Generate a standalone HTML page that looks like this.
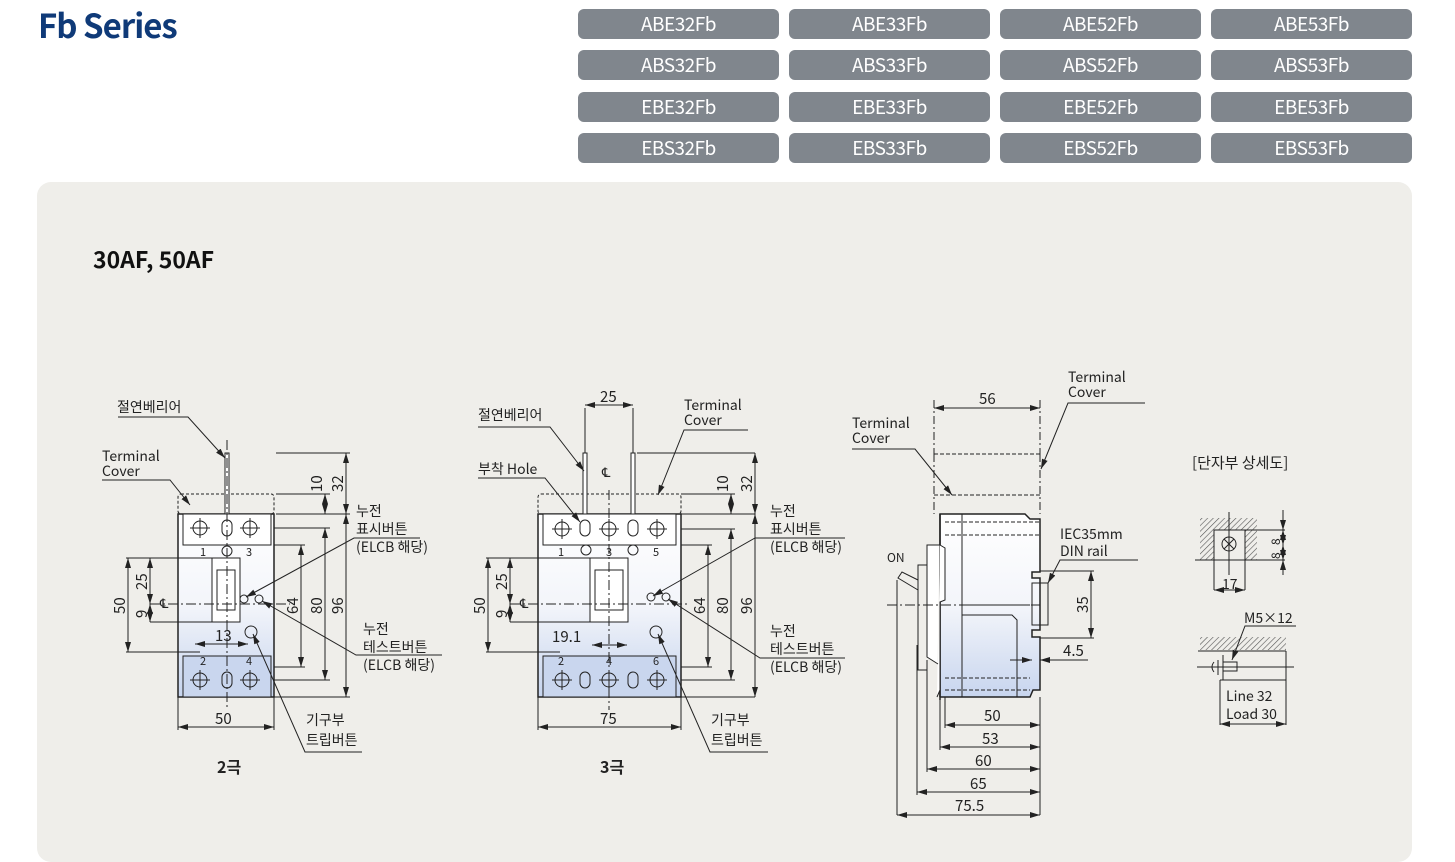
<!DOCTYPE html>
<html><head><meta charset="utf-8"><style>
body{margin:0;width:1455px;height:839px;background:#fff;position:relative;overflow:hidden;font-family:"Noto Sans CJK KR","Liberation Sans",sans-serif}
h1{position:absolute;left:38px;top:0px;margin:0;font-size:33px;color:#0f3a78;font-weight:bold;letter-spacing:-1px;font-family:"Noto Sans CJK KR","Liberation Sans",sans-serif}
.b{position:absolute;width:201px;height:30px;background:#80868d;border-radius:6px;color:#fff;font-size:19px;line-height:30px;text-align:center;letter-spacing:-0.5px}
.panel{position:absolute;left:37px;top:182px;width:1375px;height:680px;background:#efeeea;border-radius:14px}
svg{position:absolute;left:0;top:0}
text{font-family:"Noto Sans CJK KR","Liberation Sans",sans-serif;fill:#222}
</style></head><body>
<h1>Fb Series</h1>
<div class="b" style="left:578px;top:9px">ABE32Fb</div><div class="b" style="left:789px;top:9px">ABE33Fb</div><div class="b" style="left:1000px;top:9px">ABE52Fb</div><div class="b" style="left:1211px;top:9px">ABE53Fb</div>
<div class="b" style="left:578px;top:50px">ABS32Fb</div><div class="b" style="left:789px;top:50px">ABS33Fb</div><div class="b" style="left:1000px;top:50px">ABS52Fb</div><div class="b" style="left:1211px;top:50px">ABS53Fb</div>
<div class="b" style="left:578px;top:92px">EBE32Fb</div><div class="b" style="left:789px;top:92px">EBE33Fb</div><div class="b" style="left:1000px;top:92px">EBE52Fb</div><div class="b" style="left:1211px;top:92px">EBE53Fb</div>
<div class="b" style="left:578px;top:133px">EBS32Fb</div><div class="b" style="left:789px;top:133px">EBS33Fb</div><div class="b" style="left:1000px;top:133px">EBS52Fb</div><div class="b" style="left:1211px;top:133px">EBS53Fb</div>
<div class="panel"></div>
<svg width="1455" height="839" viewBox="0 0 1455 839">
<defs>
<marker id="a" viewBox="0 0 10 6" refX="10" refY="3" markerWidth="10" markerHeight="6" orient="auto-start-reverse" markerUnits="userSpaceOnUse"><path d="M0,0L10,3L0,6z" fill="#222"/></marker>
<linearGradient id="g" x1="0" y1="0" x2="0" y2="1"><stop offset="0" stop-color="#fff"/><stop offset="0.5" stop-color="#f3f5fa"/><stop offset="1" stop-color="#c6d4ee"/></linearGradient>
<pattern id="h" width="4" height="4" patternUnits="userSpaceOnUse" patternTransform="rotate(45)"><line x1="0" y1="0" x2="0" y2="4" stroke="#555" stroke-width="1.2"/></pattern>
<g id="s"><circle r="7" fill="none" stroke="#222"/><path d="M-10 0H10M0 -10V10" stroke="#222"/></g>
</defs>
<text x="93" y="268" font-size="23" font-weight="bold" style="fill:#111">30AF, 50AF</text>
<g stroke="#222" stroke-width="1" fill="none">
<!-- 2 pole -->
<rect x="178" y="514" width="96" height="183" fill="url(#g)" stroke-width="1.5"/>
<rect x="183" y="514" width="88" height="31" fill="#fff"/>
<rect x="183" y="656" width="88" height="41" fill="#c9d6ee"/>
<rect x="178" y="494" width="96" height="20" stroke-dasharray="3,2" rx="3"/>
<rect x="225" y="453" width="4" height="61" fill="#fff"/>
<use href="#s" x="200" y="528"/><use href="#s" x="250" y="528"/><use href="#s" x="200" y="680"/><use href="#s" x="250" y="680"/>
<rect x="222" y="520" width="10" height="16" rx="5"/><rect x="222" y="672" width="10" height="16" rx="5"/>
<circle cx="227" cy="551" r="5"/>
<rect x="212" y="558" width="28" height="64" fill="#fff"/><rect x="217" y="570" width="18" height="40"/>
<circle cx="244" cy="599" r="4"/><circle cx="259" cy="599" r="4"/><circle cx="251" cy="632" r="6"/>
<line x1="150" y1="604" x2="290" y2="604" stroke-dasharray="10,3,2,3"/>
<line x1="227" y1="440" x2="227" y2="710" stroke-dasharray="10,3,2,3"/>
<path d="M276 494H330M276 514H350M276 453H350M274 528H330M274 545H305M274 667H305M274 680H330M274 697H350M126 558H212M126 652H200M150 622H215"/>
<line x1="325" y1="494" x2="325" y2="514" marker-start="url(#a)" marker-end="url(#a)"/>
<line x1="346" y1="453" x2="346" y2="514" marker-start="url(#a)" marker-end="url(#a)"/>
<line x1="346" y1="514" x2="346" y2="697" marker-start="url(#a)" marker-end="url(#a)"/>
<line x1="325" y1="528" x2="325" y2="680" marker-start="url(#a)" marker-end="url(#a)"/>
<line x1="301" y1="545" x2="301" y2="667" marker-start="url(#a)" marker-end="url(#a)"/>
<line x1="128" y1="558" x2="128" y2="652" marker-start="url(#a)" marker-end="url(#a)"/>
<line x1="150" y1="558" x2="150" y2="604" marker-start="url(#a)" marker-end="url(#a)"/>
<line x1="150" y1="604" x2="150" y2="622" marker-start="url(#a)" marker-end="url(#a)"/>
<line x1="195" y1="644" x2="248" y2="644" marker-start="url(#a)" marker-end="url(#a)"/>
<path d="M178 697V730M274 697V730"/>
<line x1="178" y1="727" x2="274" y2="727" marker-start="url(#a)" marker-end="url(#a)"/>
<path d="M118 417H188L225 458" marker-end="url(#a)"/>
<path d="M102 480H170L190 505" marker-end="url(#a)"/>
<path d="M420 538H354L246 597" marker-end="url(#a)"/>
<path d="M442 655H356L262 601" marker-end="url(#a)"/>
<path d="M362 752H305L253 634" marker-end="url(#a)"/>
<!-- 3 pole -->
<rect x="538" y="514" width="143" height="183" fill="url(#g)" stroke-width="1.5"/>
<rect x="543" y="514" width="133" height="31" fill="#fff"/>
<rect x="543" y="656" width="133" height="41" fill="#c9d6ee"/>
<rect x="538" y="494" width="143" height="20" stroke-dasharray="3,2" rx="3"/>
<rect x="583" y="453" width="4" height="61" fill="#fff"/><rect x="631" y="453" width="4" height="61" fill="#fff"/>
<use href="#s" x="562" y="529"/><use href="#s" x="609" y="529"/><use href="#s" x="657" y="529"/>
<use href="#s" x="562" y="680"/><use href="#s" x="609" y="680"/><use href="#s" x="657" y="680"/>
<rect x="580" y="520" width="10" height="16" rx="5"/><rect x="628" y="520" width="10" height="16" rx="5"/>
<rect x="580" y="672" width="10" height="16" rx="5"/><rect x="628" y="672" width="10" height="16" rx="5"/>
<circle cx="586" cy="550" r="5"/><circle cx="633" cy="550" r="5"/>
<rect x="590" y="558" width="38" height="64" fill="#fff"/><rect x="595" y="570" width="28" height="40"/>
<circle cx="651" cy="597" r="4"/><circle cx="666" cy="597" r="4"/><circle cx="656" cy="632" r="6"/>
<line x1="510" y1="604" x2="690" y2="604" stroke-dasharray="10,3,2,3"/>
<line x1="609" y1="490" x2="609" y2="710" stroke-dasharray="10,3,2,3"/>
<path d="M585 408V453M633 408V453M681 494H735M681 514H755M637 453H755M681 529H735M681 545H712M681 667H712M681 680H735M681 697H755M486 558H590M486 652H560M510 622H590"/>
<line x1="585" y1="405" x2="633" y2="405" marker-start="url(#a)" marker-end="url(#a)"/>
<line x1="731" y1="494" x2="731" y2="514" marker-start="url(#a)" marker-end="url(#a)"/>
<line x1="755" y1="453" x2="755" y2="514" marker-start="url(#a)" marker-end="url(#a)"/>
<line x1="755" y1="514" x2="755" y2="697" marker-start="url(#a)" marker-end="url(#a)"/>
<line x1="731" y1="529" x2="731" y2="680" marker-start="url(#a)" marker-end="url(#a)"/>
<line x1="708" y1="545" x2="708" y2="667" marker-start="url(#a)" marker-end="url(#a)"/>
<line x1="488" y1="558" x2="488" y2="652" marker-start="url(#a)" marker-end="url(#a)"/>
<line x1="510" y1="558" x2="510" y2="604" marker-start="url(#a)" marker-end="url(#a)"/>
<line x1="510" y1="604" x2="510" y2="622" marker-start="url(#a)" marker-end="url(#a)"/>
<line x1="592" y1="645" x2="627" y2="645" marker-start="url(#a)" marker-end="url(#a)"/>
<path d="M538 697V730M681 697V730"/>
<line x1="538" y1="727" x2="681" y2="727" marker-start="url(#a)" marker-end="url(#a)"/>
<path d="M478 427H550L584 471" marker-end="url(#a)"/>
<path d="M478 478H545L580 522" marker-end="url(#a)"/>
<path d="M748 430H684L658 495" marker-end="url(#a)"/>
<path d="M845 538H755L653 596" marker-end="url(#a)"/>
<path d="M845 658H760L668 599" marker-end="url(#a)"/>
<path d="M768 752H710L658 634" marker-end="url(#a)"/>
<!-- side view -->
<path d="M940 514H1025L1030 519H1040V572H1032V578H1040V630H1032V637H1040V690H1033L1030 697H940V700Z" fill="url(#g)" stroke-width="1.5"/>
<path d="M940 514V697" stroke-width="1.5"/>
<path d="M940 514V545L945 548V600L940 602V690L937 697M940 545H927V657L938 664" fill="#fff"/>
<path d="M927 545H940M927 565H918V670H927M918 580L902 572L898 578L918 590"/>
<path d="M962 514V697M962 605H1030M962 615H1012L1017 620V697"/>
<path d="M945 522H1040M945 535H1040M945 678H1030M945 690H1030" stroke-dasharray="4,2"/>
<rect x="1032" y="583" width="16" height="42"/>
<path d="M934 495H1040M934 454H1040" stroke-dasharray="4,2"/>
<path d="M934 454V514M1040 454V514M934 400V454M1040 400V454M1040 454" stroke-dasharray="8,3,2,3"/>
<line x1="934" y1="408" x2="1040" y2="408" marker-start="url(#a)" marker-end="url(#a)"/>
<line x1="887" y1="605" x2="1040" y2="605" stroke-dasharray="10,3,2,3"/>
<path d="M1040 571H1094M1040 638H1094"/>
<line x1="1091" y1="571" x2="1091" y2="638" marker-start="url(#a)" marker-end="url(#a)"/>
<path d="M1012 660H1030M1048 660H1088"/>
<line x1="1010" y1="660" x2="1032" y2="660" marker-end="url(#a)"/>
<line x1="1060" y1="660" x2="1040" y2="660" marker-end="url(#a)"/>
<path d="M1145 403H1068L1041 469" marker-end="url(#a)"/>
<path d="M852 449H915L952 495" marker-end="url(#a)"/>
<path d="M1138 560H1060L1048 583" marker-end="url(#a)"/>
<path d="M945 697V728M940 697V750M927 660V772M917 645V795M897 580V815M1040 697V815"/>
<line x1="945" y1="725" x2="1040" y2="725" marker-start="url(#a)" marker-end="url(#a)"/>
<line x1="940" y1="747" x2="1040" y2="747" marker-start="url(#a)" marker-end="url(#a)"/>
<line x1="927" y1="769" x2="1040" y2="769" marker-start="url(#a)" marker-end="url(#a)"/>
<line x1="917" y1="792" x2="1040" y2="792" marker-start="url(#a)" marker-end="url(#a)"/>
<line x1="897" y1="815" x2="1040" y2="815" marker-start="url(#a)" marker-end="url(#a)"/>
<!-- detail -->
<rect x="1200" y="518" width="57" height="42" fill="url(#h)" stroke="none"/>
<rect x="1214" y="530" width="31" height="30" fill="#efeeea"/>
<circle cx="1229" cy="544" r="7"/><path d="M1224 539L1234 549M1234 539L1224 549"/>
<path d="M1195 560H1262M1229 512V575M1245 530H1285M1245 560H1285M1214 560V590M1245 560V590"/>
<line x1="1283" y1="510" x2="1283" y2="530" marker-end="url(#a)"/>
<line x1="1283" y1="530" x2="1283" y2="545" marker-start="url(#a)" marker-end="url(#a)"/>
<line x1="1283" y1="545" x2="1283" y2="560" marker-start="url(#a)" marker-end="url(#a)"/>
<line x1="1283" y1="575" x2="1283" y2="560" marker-end="url(#a)"/>
<line x1="1214" y1="590" x2="1245" y2="590" marker-start="url(#a)" marker-end="url(#a)"/>
<rect x="1200" y="637" width="86" height="13" fill="url(#h)" stroke="none"/>
<path d="M1198 651H1286M1197 667H1294M1223 655V680M1220 680H1286M1286 651V680M1218 660V675M1214 662Q1210 667 1214 672"/>
<rect x="1223" y="662" width="14" height="9"/>
<path d="M1296 626H1245L1232 660" marker-end="url(#a)"/>
<path d="M1220 680V725M1286 680V725"/>
<line x1="1220" y1="724" x2="1286" y2="724" marker-start="url(#a)" marker-end="url(#a)"/>
</g>
<g font-size="14">
<text x="117" y="412">절연베리어</text>
<text x="102" y="461">Terminal</text><text x="102" y="476">Cover</text>
<text x="356" y="516">누전</text><text x="356" y="534">표시버튼</text><text x="356" y="552">(ELCB 해당)</text>
<text x="363" y="634">누전</text><text x="363" y="652">테스트버튼</text><text x="363" y="670">(ELCB 해당)</text>
<text x="306" y="725">기구부</text><text x="306" y="745">트립버튼</text>
<text x="215" y="724" font-size="15">50</text>
<text x="215" y="641" font-size="15">13</text>
<text x="478" y="420">절연베리어</text><text x="478" y="474">부착 Hole</text>
<text x="684" y="410">Terminal</text><text x="684" y="425">Cover</text>
<text x="770" y="516">누전</text><text x="770" y="534">표시버튼</text><text x="770" y="552">(ELCB 해당)</text>
<text x="770" y="636">누전</text><text x="770" y="654">테스트버튼</text><text x="770" y="672">(ELCB 해당)</text>
<text x="711" y="725">기구부</text><text x="711" y="745">트립버튼</text>
<text x="600" y="724" font-size="15">75</text><text x="600" y="402" font-size="15">25</text>
<text x="552" y="642" font-size="15">19.1</text>
<text x="852" y="428">Terminal</text><text x="852" y="443">Cover</text>
<text x="1068" y="382">Terminal</text><text x="1068" y="397">Cover</text>
<text x="979" y="404" font-size="15">56</text>
<text x="887" y="562" font-size="12">ON</text>
<text x="1060" y="539">IEC35mm</text><text x="1060" y="556">DIN rail</text>
<text x="1063" y="656" font-size="15">4.5</text>
<g font-size="15"><text x="984" y="721">50</text><text x="982" y="744">53</text><text x="975" y="766">60</text><text x="970" y="789">65</text><text x="955" y="811">75.5</text></g>
<text x="1192" y="468" font-size="15">[단자부 상세도]</text>
<text x="1222" y="589">17</text>
<text x="1244" y="623">M5×12</text>
<text x="1226" y="701">Line 32</text><text x="1226" y="719">Load 30</text>
<text x="217" y="773" font-weight="bold" font-size="16">2극</text>
<text x="600" y="773" font-weight="bold" font-size="16">3극</text>
</g>
<g font-size="15">
<text transform="translate(322,492) rotate(-90)">10</text>
<text transform="translate(343,492) rotate(-90)">32</text>
<text transform="translate(343,614) rotate(-90)">96</text>
<text transform="translate(322,614) rotate(-90)">80</text>
<text transform="translate(298,614) rotate(-90)">64</text>
<text transform="translate(125,614) rotate(-90)">50</text>
<text transform="translate(147,590) rotate(-90)">25</text>
<text transform="translate(147,618) rotate(-90)">9</text>
<text transform="translate(728,492) rotate(-90)">10</text>
<text transform="translate(752,492) rotate(-90)">32</text>
<text transform="translate(752,614) rotate(-90)">96</text>
<text transform="translate(728,614) rotate(-90)">80</text>
<text transform="translate(705,614) rotate(-90)">64</text>
<text transform="translate(485,614) rotate(-90)">50</text>
<text transform="translate(507,590) rotate(-90)">25</text>
<text transform="translate(507,618) rotate(-90)">9</text>
<text transform="translate(1088,613) rotate(-90)">35</text>
<text transform="translate(1280,545) rotate(-90)" font-size="12">8</text>
<text transform="translate(1280,559) rotate(-90)" font-size="12">8</text>
</g>
<g font-size="11" fill="#333">
<text x="200" y="556">1</text><text x="246" y="556">3</text><text x="200" y="665">2</text><text x="246" y="665">4</text>
<text x="558" y="556">1</text><text x="606" y="556">3</text><text x="653" y="556">5</text>
<text x="558" y="665">2</text><text x="606" y="665">4</text><text x="653" y="665">6</text>
<text x="160" y="608" font-size="13">℄</text><text x="520" y="608" font-size="13">℄</text><text x="602" y="477" font-size="13">℄</text>
</g>
</svg>
</body></html>
